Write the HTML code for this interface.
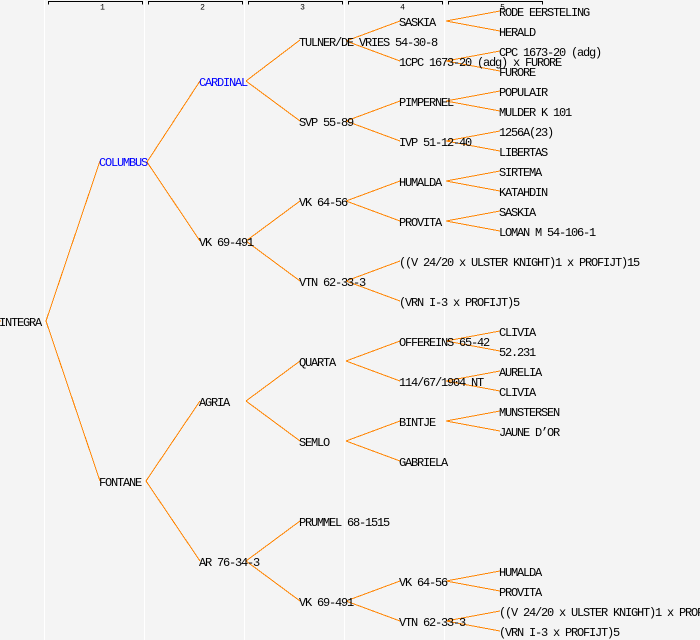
<!DOCTYPE html>
<html>
<head>
<meta charset="utf-8">
<style>
html,body{margin:0;padding:0;background:#f4f4f4;}
body{width:700px;height:640px;overflow:hidden;}
svg{display:block;}
.t{font-family:"Liberation Mono","DejaVu Sans Mono",monospace;font-size:12px;letter-spacing:-1.2px;fill:#000;}
.b{fill:#0000ff;}
.h{font-family:"Liberation Mono","DejaVu Sans Mono",monospace;font-size:8px;fill:#000;}
.l line{stroke:#ff8400;stroke-width:1;}
</style>
</head>
<body>
<svg width="700" height="640" viewBox="0 0 700 640" xmlns="http://www.w3.org/2000/svg">
<rect x="0" y="0" width="700" height="640" fill="#f4f4f4"/>
<!-- column separators -->
<g fill="#ffffff">
<rect x="44" y="0" width="1" height="640"/>
<rect x="144" y="0" width="1" height="640"/>
<rect x="244" y="0" width="1" height="640"/>
<rect x="344" y="0" width="1" height="640"/>
<rect x="444" y="0" width="1" height="640"/>
</g>
<!-- header brackets -->
<g stroke="#000" stroke-width="1" fill="none" shape-rendering="crispEdges">
<path d="M48.5 4.5 V1.5 H142.5 V4.5"/>
<path d="M148.5 4.5 V1.5 H242.5 V4.5"/>
<path d="M248.5 4.5 V1.5 H342.5 V4.5"/>
<path d="M348.5 4.5 V1.5 H442.5 V4.5"/>
<path d="M448.5 4.5 V1.5 H542.5 V4.5"/>
</g>
<g class="h" text-anchor="middle">
<text x="102.5" y="9.5">1</text>
<text x="202.5" y="9.5">2</text>
<text x="302.5" y="9.5">3</text>
<text x="402.5" y="9.5">4</text>
<text x="502.5" y="9.5">5</text>
</g>
<!-- connectors -->
<g class="l" shape-rendering="crispEdges">
<line x1="-4" y1="321" x2="1" y2="321"/>
<!-- L1 -> L2 -->
<line x1="46" y1="321" x2="100" y2="161"/>
<line x1="46" y1="321" x2="100" y2="481"/>
<!-- L2 -> L3 -->
<line x1="147" y1="162" x2="200" y2="81"/>
<line x1="147" y1="162" x2="200" y2="241"/>
<line x1="146" y1="481" x2="200" y2="401"/>
<line x1="146" y1="481" x2="200" y2="561"/>
<!-- L3 -> L4 -->
<line x1="246" y1="81" x2="300" y2="40"/>
<line x1="246" y1="81" x2="300" y2="121"/>
<line x1="246" y1="241" x2="300" y2="201"/>
<line x1="246" y1="241" x2="300" y2="281"/>
<line x1="246" y1="401" x2="300" y2="361"/>
<line x1="246" y1="401" x2="300" y2="441"/>
<line x1="246" y1="561" x2="300" y2="521"/>
<line x1="246" y1="561" x2="300" y2="601"/>
<!-- L4 -> L5 -->
<line x1="346" y1="41" x2="400" y2="21"/>
<line x1="346" y1="41" x2="400" y2="61"/>
<line x1="346" y1="121" x2="400" y2="101"/>
<line x1="346" y1="121" x2="400" y2="141"/>
<line x1="346" y1="201" x2="400" y2="181"/>
<line x1="346" y1="201" x2="400" y2="221"/>
<line x1="346" y1="281" x2="400" y2="261"/>
<line x1="346" y1="281" x2="400" y2="301"/>
<line x1="346" y1="361" x2="400" y2="341"/>
<line x1="346" y1="361" x2="400" y2="381"/>
<line x1="346" y1="441" x2="400" y2="421"/>
<line x1="346" y1="441" x2="400" y2="461"/>
<line x1="346" y1="601" x2="400" y2="581"/>
<line x1="346" y1="601" x2="400" y2="621"/>
<!-- L5 -> L6 -->
<line x1="446" y1="21" x2="500" y2="11"/>
<line x1="446" y1="21" x2="500" y2="31"/>
<line x1="446" y1="61" x2="500" y2="51"/>
<line x1="446" y1="61" x2="500" y2="71"/>
<line x1="446" y1="101" x2="500" y2="91"/>
<line x1="446" y1="101" x2="500" y2="111"/>
<line x1="446" y1="141" x2="500" y2="131"/>
<line x1="446" y1="141" x2="500" y2="151"/>
<line x1="446" y1="181" x2="500" y2="171"/>
<line x1="446" y1="181" x2="500" y2="191"/>
<line x1="446" y1="221" x2="500" y2="211"/>
<line x1="446" y1="221" x2="500" y2="231"/>
<line x1="446" y1="341" x2="500" y2="331"/>
<line x1="446" y1="341" x2="500" y2="351"/>
<line x1="446" y1="381" x2="500" y2="371"/>
<line x1="446" y1="381" x2="500" y2="391"/>
<line x1="446" y1="421" x2="500" y2="411"/>
<line x1="446" y1="421" x2="500" y2="431"/>
<line x1="446" y1="581" x2="500" y2="571"/>
<line x1="446" y1="581" x2="500" y2="591"/>
<line x1="446" y1="621" x2="500" y2="611"/>
<line x1="446" y1="621" x2="500" y2="631"/>
</g>
<!-- labels -->
<g class="t">
<text x="-1" y="326">INTEGRA</text>

<text x="99" y="166" class="t b">COLUMBUS</text>
<text x="99" y="486">FONTANE</text>

<text x="199" y="86" class="t b">CARDINAL</text>
<text x="199" y="246">VK 69-491</text>
<text x="199" y="406">AGRIA</text>
<text x="199" y="566">AR 76-34-3</text>

<text x="299" y="46">TULNER/DE VRIES 54-30-8</text>
<text x="299" y="126">SVP 55-89</text>
<text x="299" y="206">VK 64-56</text>
<text x="299" y="286">VTN 62-33-3</text>
<text x="299" y="366">QUARTA</text>
<text x="299" y="446">SEMLO</text>
<text x="299" y="526">PRUMMEL 68-1515</text>
<text x="299" y="606">VK 69-491</text>

<text x="399" y="26">SASKIA</text>
<text x="399" y="66">1CPC 1673-20 (adg) x FURORE</text>
<text x="399" y="106">PIMPERNEL</text>
<text x="399" y="146">IVP 51-12-40</text>
<text x="399" y="186">HUMALDA</text>
<text x="399" y="226">PROVITA</text>
<text x="399" y="266">((V 24/20 x ULSTER KNIGHT)1 x PROFIJT)15</text>
<text x="399" y="306">(VRN I-3 x PROFIJT)5</text>
<text x="399" y="346">OFFEREINS 65-42</text>
<text x="399" y="386">114/67/1904 NT</text>
<text x="399" y="426">BINTJE</text>
<text x="399" y="466">GABRIELA</text>
<text x="399" y="586">VK 64-56</text>
<text x="399" y="626">VTN 62-33-3</text>

<text x="499" y="16">RODE EERSTELING</text>
<text x="499" y="36">HERALD</text>
<text x="499" y="56">CPC 1673-20 (adg)</text>
<text x="499" y="76">FURORE</text>
<text x="499" y="96">POPULAIR</text>
<text x="499" y="116">MULDER K 101</text>
<text x="499" y="136">1256A(23)</text>
<text x="499" y="156">LIBERTAS</text>
<text x="499" y="176">SIRTEMA</text>
<text x="499" y="196">KATAHDIN</text>
<text x="499" y="216">SASKIA</text>
<text x="499" y="236">LOMAN M 54-106-1</text>
<text x="499" y="336">CLIVIA</text>
<text x="499" y="356">52.231</text>
<text x="499" y="376">AURELIA</text>
<text x="499" y="396">CLIVIA</text>
<text x="499" y="416">MUNSTERSEN</text>
<text x="499" y="436">JAUNE D’OR</text>
<text x="499" y="576">HUMALDA</text>
<text x="499" y="596">PROVITA</text>
<text x="499" y="616">((V 24/20 x ULSTER KNIGHT)1 x PROFIJT)15</text>
<text x="499" y="636">(VRN I-3 x PROFIJT)5</text>
</g>
</svg>
</body>
</html>
